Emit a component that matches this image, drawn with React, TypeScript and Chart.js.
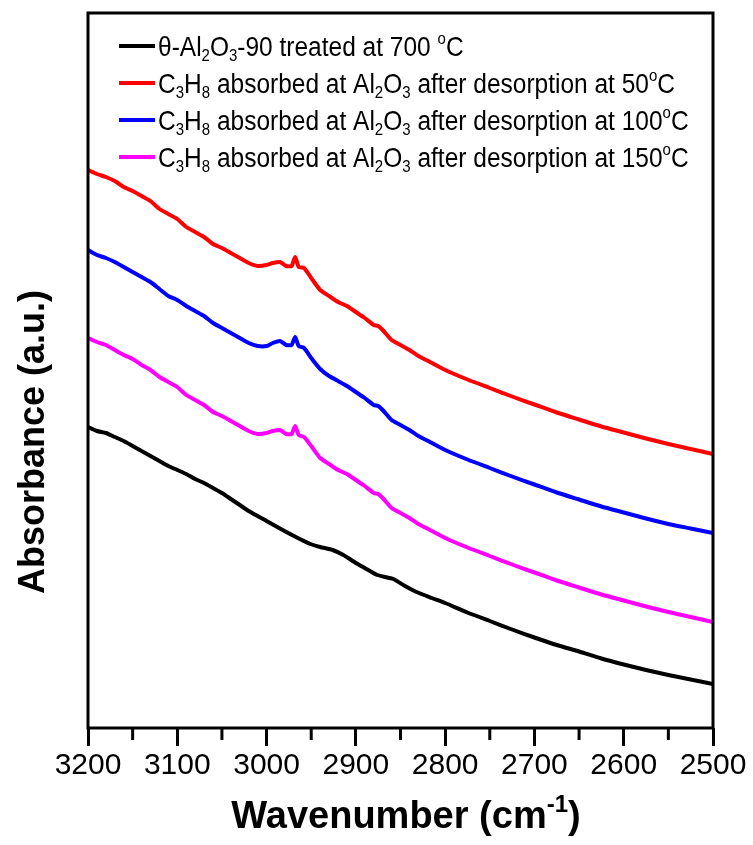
import React, { useEffect, useRef } from "react";
import { Chart, registerables } from "chart.js";

Chart.register(...registerables);

// ---- Data (absorbance, arbitrary units) ----
const wnAdsorbed = [
  3200, 3190, 3180, 3170, 3160, 3150, 3140, 3130, 3120, 3110, 3100, 3090, 3080, 3070, 3060, 3050, 3040, 3030, 3020, 3010,
  3000, 2993, 2985, 2978, 2972, 2968, 2964, 2958, 2950, 2940, 2930, 2920, 2910, 2900, 2890, 2880, 2875, 2870, 2860, 2850,
  2840, 2830, 2817, 2800, 2775, 2750, 2725, 2700, 2675, 2650, 2625, 2600, 2575, 2550, 2525, 2500,
];

const red50 = [
  1.116, 1.108, 1.102, 1.094, 1.082, 1.074, 1.064, 1.054, 1.038, 1.028, 1.018, 1.002, 0.992, 0.982, 0.968, 0.96, 0.95, 0.94, 0.93, 0.924,
  0.926, 0.93, 0.932, 0.924, 0.924, 0.942, 0.922, 0.92, 0.9, 0.876, 0.864, 0.852, 0.844, 0.832, 0.82, 0.806, 0.804, 0.796, 0.776, 0.766,
  0.756, 0.744, 0.732, 0.716, 0.697, 0.68, 0.663, 0.647, 0.631, 0.617, 0.603, 0.591, 0.579, 0.568, 0.558, 0.548,
];

const blue100 = [
  0.956, 0.946, 0.94, 0.932, 0.922, 0.912, 0.902, 0.892, 0.878, 0.864, 0.856, 0.844, 0.834, 0.824, 0.81, 0.8, 0.79, 0.78, 0.77, 0.764,
  0.764, 0.77, 0.774, 0.766, 0.766, 0.782, 0.764, 0.76, 0.74, 0.718, 0.704, 0.694, 0.684, 0.672, 0.66, 0.646, 0.644, 0.636, 0.616, 0.606,
  0.596, 0.584, 0.572, 0.556, 0.537, 0.52, 0.503, 0.487, 0.471, 0.457, 0.443, 0.431, 0.419, 0.408, 0.399, 0.39,
];

const magenta150 = [
  0.78, 0.772, 0.766, 0.756, 0.746, 0.738, 0.726, 0.716, 0.702, 0.692, 0.682, 0.666, 0.656, 0.646, 0.632, 0.624, 0.614, 0.604, 0.594, 0.588,
  0.59, 0.594, 0.596, 0.588, 0.588, 0.604, 0.586, 0.582, 0.564, 0.54, 0.528, 0.516, 0.508, 0.496, 0.484, 0.47, 0.468, 0.46, 0.44, 0.43,
  0.42, 0.408, 0.396, 0.38, 0.361, 0.344, 0.327, 0.311, 0.295, 0.281, 0.267, 0.255, 0.243, 0.232, 0.222, 0.212,
];

const wnBlack = [
  3200, 3190, 3180, 3170, 3160, 3150, 3140, 3130, 3120, 3110, 3100, 3090, 3080, 3070, 3060, 3050, 3040, 3030, 3020, 3000,
  2982, 2965, 2951, 2940, 2926, 2914, 2900, 2890, 2876, 2858, 2845, 2832, 2815, 2800, 2775, 2750, 2725, 2700, 2675, 2650,
  2625, 2600, 2575, 2550, 2525, 2500,
];

const black700 = [
  0.602, 0.594, 0.59, 0.582, 0.574, 0.564, 0.554, 0.544, 0.534, 0.524, 0.516, 0.508, 0.498, 0.49, 0.48, 0.47, 0.458, 0.446, 0.434, 0.414,
  0.396, 0.38, 0.368, 0.362, 0.356, 0.346, 0.33, 0.32, 0.306, 0.298, 0.284, 0.272, 0.26, 0.25, 0.231, 0.214, 0.197, 0.181, 0.166, 0.153,
  0.139, 0.127, 0.116, 0.106, 0.097, 0.088,
];

const seriesLabels = [
  "θ-Al₂O₃-90 treated at 700 °C",
  "C₃H₈ absorbed at Al₂O₃ after desorption at 50°C",
  "C₃H₈ absorbed at Al₂O₃ after desorption at 100°C",
  "C₃H₈ absorbed at Al₂O₃ after desorption at 150°C",
];
// legend markup: _x subscript, ^x superscript
const legendMarkup = [
  "θ-Al_2O_3-90 treated at 700 ^oC",
  "C_3H_8 absorbed at Al_2O_3 after desorption at 50^oC",
  "C_3H_8 absorbed at Al_2O_3 after desorption at 100^oC",
  "C_3H_8 absorbed at Al_2O_3 after desorption at 150^oC",
];
const seriesColors = ["#000000", "#ff0000", "#0000ff", "#ff00ff"];

const xMin = 2500;
const xMax = 3200;
const xStep = 100;
const xMinorStep = 50;
const yMin = 0;
const yMax = 1.43;

const xTitle = "Wavenumber (cm^{-1})";
const yTitle = "Absorbance (a.u.)";

const FONT = "'Liberation Sans', Arial, Helvetica, sans-serif";

type Seg = { t: string; k: number };
function parseRich(s: string): Seg[] {
  const out: Seg[] = [];
  let i = 0;
  let buf = "";
  const flush = () => {
    if (buf) {
      out.push({ t: buf, k: 0 });
      buf = "";
    }
  };
  while (i < s.length) {
    const c = s[i];
    if (c === "_" || c === "^") {
      flush();
      let t = "";
      if (s[i + 1] === "{") {
        const j = s.indexOf("}", i + 2);
        t = s.slice(i + 2, j);
        i = j + 1;
      } else {
        t = s[i + 1];
        i += 2;
      }
      out.push({ t, k: c === "_" ? -1 : 1 });
    } else {
      buf += c;
      i++;
    }
  }
  flush();
  return out;
}

function drawRich(
  ctx: CanvasRenderingContext2D,
  s: string,
  x: number,
  y: number,
  size: number,
  bold: boolean,
  align: "left" | "center",
  vScale = 1
) {
  const segs = parseRich(s);
  const fontFor = (k: number) => `${bold ? "bold " : ""}${k === 0 ? size : Math.round(size * 0.62)}px ${FONT}`;
  let total = 0;
  const widths = segs.map((sg) => {
    ctx.font = fontFor(sg.k);
    const w = ctx.measureText(sg.t).width;
    total += w;
    return w;
  });
  ctx.save();
  ctx.translate(0, y);
  ctx.scale(1, vScale);
  let cx = align === "center" ? x - total / 2 : x;
  ctx.textAlign = "left";
  ctx.textBaseline = "alphabetic";
  ctx.fillStyle = "#000";
  segs.forEach((sg, i) => {
    ctx.font = fontFor(sg.k);
    const dy = sg.k === -1 ? size * 0.22 : sg.k === 1 ? -size * 0.42 : 0;
    ctx.fillText(sg.t, cx, dy);
    cx += widths[i];
  });
  ctx.restore();
}

const decorPlugin = {
  id: "decor",
  afterDraw(chart: any) {
    const ctx: CanvasRenderingContext2D = chart.ctx;
    const { left, right, top, bottom } = chart.chartArea;
    const xs = chart.scales.x;
    ctx.save();
    // frame
    ctx.strokeStyle = "#000";
    ctx.lineWidth = 3;
    ctx.strokeRect(left, top, right - left, bottom - top);
    // minor ticks
    for (let v = xMin + xMinorStep; v < xMax; v += xStep) {
      const px = xs.getPixelForValue(v);
      ctx.beginPath();
      ctx.moveTo(px, bottom);
      ctx.lineTo(px, bottom + 12);
      ctx.stroke();
    }
    // legend
    const rows = [46, 83, 120, 157];
    legendMarkup.forEach((lab, i) => {
      const y = rows[i];
      ctx.strokeStyle = seriesColors[i];
      ctx.lineWidth = 4;
      ctx.beginPath();
      ctx.moveTo(119, y);
      ctx.lineTo(155, y);
      ctx.stroke();
      drawRich(ctx, lab, 158, y + 9.5, 24.5, false, "left", 1.1);
    });
    // x title
    drawRich(ctx, xTitle, 406, 828, 38, true, "center", 1.0);
    // y title
    ctx.translate(31, 442);
    ctx.rotate(-Math.PI / 2);
    drawRich(ctx, yTitle, 0, 13, 36, true, "center", 1.0);
    ctx.restore();
  },
};

export default function App() {
  const ref = useRef<HTMLCanvasElement | null>(null);
  useEffect(() => {
    if (!ref.current) return;
    const xsets = [wnBlack, wnAdsorbed, wnAdsorbed, wnAdsorbed];
    const ysets = [black700, red50, blue100, magenta150];
    const chart = new Chart(ref.current, {
      type: "line",
      data: {
        datasets: ysets.map((ys, i) => ({
          label: seriesLabels[i],
          data: ys.map((v, j) => ({ x: xsets[i][j], y: v })),
          borderColor: seriesColors[i],
          backgroundColor: seriesColors[i],
          borderWidth: 4,
          pointRadius: 0,
          tension: 0.2,
          fill: false,
        })),
      },
      options: {
        animation: false,
        responsive: false,
        devicePixelRatio: 1,
        layout: { padding: { left: 88, top: 13, right: 40, bottom: 0 } },
        plugins: { legend: { display: false }, tooltip: { enabled: false } },
        scales: {
          x: {
            type: "linear",
            reverse: true,
            min: xMin,
            max: xMax,
            afterFit: (s: any) => {
              s.height = 117;
            },
            ticks: {
              stepSize: xStep,
              color: "#000",
              font: { family: FONT, size: 30 },
              padding: 2,
              maxRotation: 0,
              callback: (v: any) => String(v),
            },
            grid: {
              display: true,
              drawOnChartArea: false,
              drawTicks: true,
              tickLength: 18,
              tickWidth: 3,
              tickColor: "#000",
              color: "#000",
            },
            border: { display: false },
            title: { display: false },
          },
          y: {
            display: false,
            min: yMin,
            max: yMax,
          },
        },
      },
      plugins: [decorPlugin],
    });
    return () => chart.destroy();
  }, []);
  return (
    <div style={{ position: "absolute", left: 0, top: 0, width: 753, height: 845, background: "#fff" }}>
      <canvas ref={ref} width={753} height={845} />
    </div>
  );
}
